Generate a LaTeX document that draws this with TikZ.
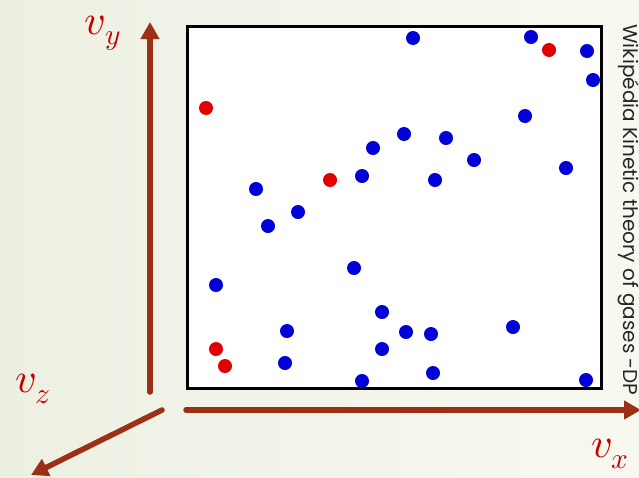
\documentclass[tikz,border=0pt]{standalone}
\usepackage{fontspec}
\usepackage{unicode-math}
\setmathfont{Latin Modern Math}
\newfontfamily\notefont{Poppins}
\usetikzlibrary{arrows.meta,positioning}
\definecolor{axisred}{RGB}{156,48,20}
\definecolor{labelred}{RGB}{196,0,0}
\definecolor{molblue}{RGB}{0,0,215}
\definecolor{molred}{RGB}{225,0,0}
\definecolor{bgleft}{RGB}{236,240,226}
\definecolor{bgright}{RGB}{248,248,241}
\tikzset{
  bmol/.style = {circle, fill=molblue, minimum size=14pt, inner sep=0pt},
  rmol/.style = {circle, fill=molred, minimum size=14pt, inner sep=0pt},
  axis/.style = {line width=5.5pt, draw=axisred, line cap=round, -{Triangle[length=17pt,width=18pt]}},
  lbl/.style = {text=labelred, inner sep=0pt, font=\fontsize{42}{46}\selectfont}
}

\begin{document}
\begin{tikzpicture}[x=1pt,y=-1pt]
            \shade[left color=bgleft, right color=bgright] (0,0) rectangle (639,477);
            \useasboundingbox (0,0) rectangle (639,477);
            % the box of gas
            \node[draw, line width=3pt, fill=white, minimum width=414pt, minimum height=362pt, inner sep=0pt] (box) at (394.5,207.5) {};
            \foreach \x/\y [count=\i] in {413/38, 531/37, 587/51, 593/80, 525/116, 566/168, 404/134, 446/138, 373/148, 474/160, 362/176, 435/180, 256/189, 298/212, 268/226, 354/268, 216/285, 382/312, 287/331, 406/332, 431/334, 513/327, 382/349, 285/363, 362/381, 433/373, 586/380}
              \node[bmol] (b\i) at (\x,\y) {};
            \foreach \x/\y [count=\i] in {549/50, 206/108, 330/180, 216/349, 225/366}
              \node[rmol] (r\i) at (\x,\y) {};
            % velocity axes
            \coordinate (yfoot) at (150,392);
            \coordinate (ytip) at (150,22);
            \coordinate (xfoot) at (186,410);
            \coordinate (xtip) at (641,410);
            \coordinate (zfoot) at (162,410);
            \coordinate (ztip) at (31,475);
            \draw[axis] (yfoot) -- (ytip);
            \draw[axis] (xfoot) -- (xtip);
            \draw[axis] (zfoot) -- (ztip);
            \node[lbl] (vy) at (103,33) {$v_y$};
            \node[lbl] (vz) at (33,389) {$v_z$};
            \node[lbl] (vx) at (610,454) {$v_x$};
            \node[rotate=-90, text=black!85, font=\notefont\fontsize{20}{22}\selectfont] (src) at (629,210) {Wikipédia Kinetic theory of gases -DP};
        \end{tikzpicture}
\end{document}
